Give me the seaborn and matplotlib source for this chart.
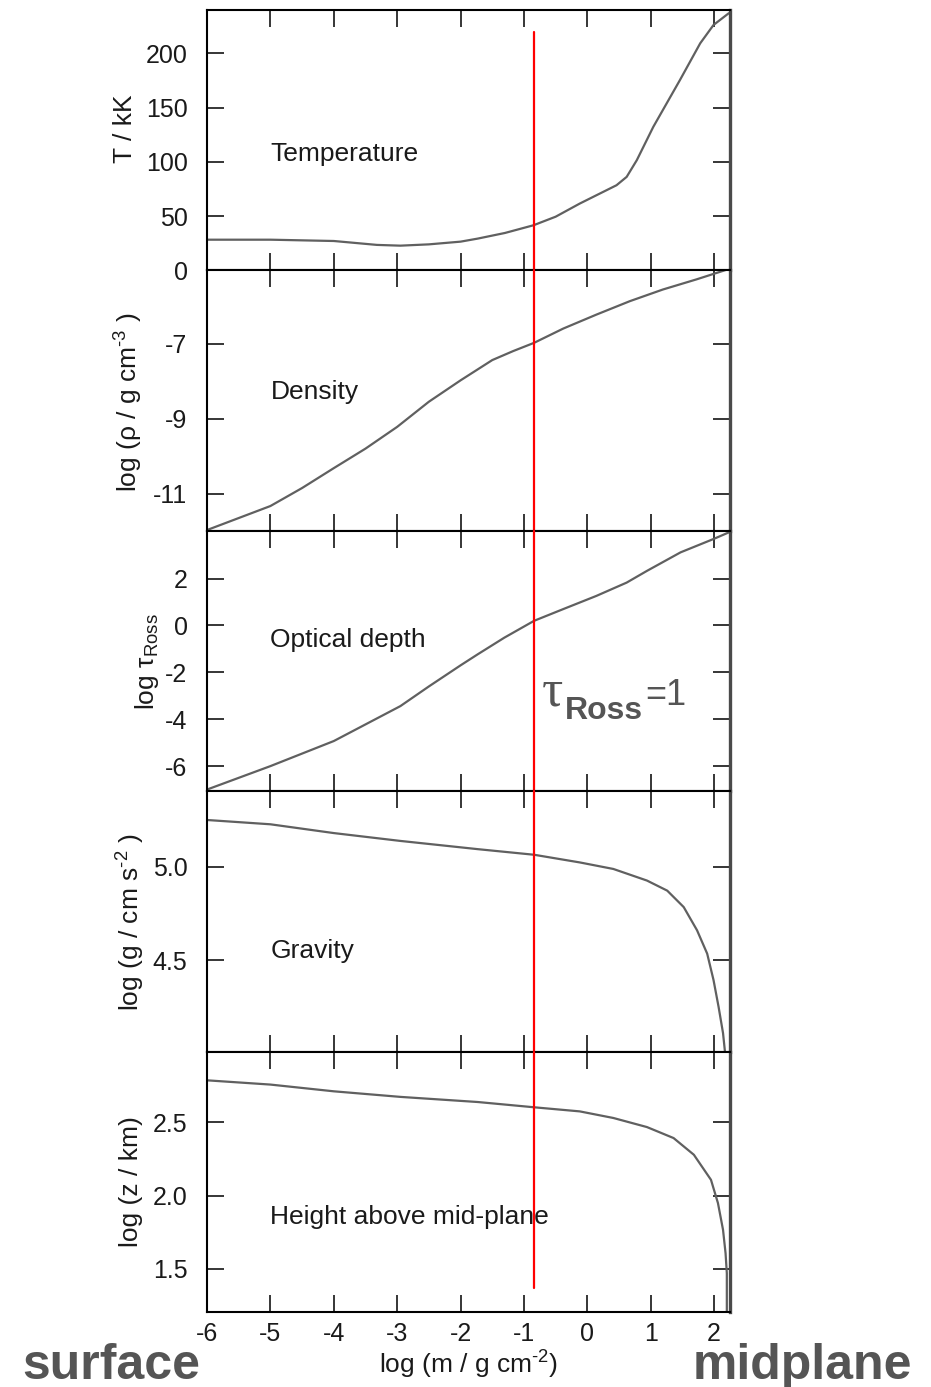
import numpy as np
import pandas as pd
import matplotlib
matplotlib.use("Agg")
import matplotlib.pyplot as plt
import seaborn as sns
from matplotlib.ticker import FormatStrFormatter

# ---------------- data ----------------
x_T = [-6, -5, -4, -3.32, -2.95, -2.5, -2, -1.73, -1.3, -0.85, -0.5, -0.12,
       0.46, 0.62, 0.78, 1.04, 1.46, 1.78, 1.99, 2.23]
T_kK = [28.3, 28.3, 27.1, 23.5, 22.8, 24.0, 26.5, 29.3, 34.5, 41.6, 49.5, 61.6,
        78.5, 86.2, 101.6, 132.3, 175.4, 209.3, 226.2, 237]

x_rho = [-6, -5, -4.5, -4, -3.5, -3, -2.5, -2, -1.5, -1.17, -0.84, -0.38,
         0.14, 0.67, 1.19, 1.72, 2.2]
log_rho = [-11.97, -11.33, -10.85, -10.32, -9.8, -9.22, -8.55, -7.98, -7.44,
           -7.2, -6.98, -6.6, -6.23, -5.87, -5.56, -5.29, -5.03]

x_tau = [-6, -5, -4, -2.95, -2.5, -2, -1.73, -1.31, -0.84, -0.38, 0.14, 0.62,
         0.94, 1.47, 1.99, 2.23]
log_tau = [-7.0, -6.0, -4.93, -3.44, -2.6, -1.7, -1.23, -0.52, 0.2, 0.7, 1.26,
           1.83, 2.33, 3.12, 3.69, 3.97]

x_g = [-6, -5, -4, -2.95, -1.73, -0.84, -0.12, 0.41, 0.94, 1.26, 1.52, 1.73,
       1.89, 1.99, 2.07, 2.14, 2.17]
log_g = [5.25, 5.227, 5.18, 5.138, 5.094, 5.064, 5.023, 4.988, 4.926, 4.872,
         4.784, 4.66, 4.535, 4.394, 4.25, 4.11, 4.012]

x_z = [-6, -5, -4, -2.95, -1.73, -0.84, -0.12, 0.41, 0.94, 1.36, 1.68, 1.95,
       2.06, 2.14, 2.18, 2.2, 2.2]
log_z = [2.787, 2.758, 2.712, 2.674, 2.639, 2.603, 2.575, 2.53, 2.468, 2.393,
         2.279, 2.108, 1.949, 1.767, 1.607, 1.47, 1.206]

tau_ross_one = -0.84

panel_titles = ["Temperature", "Density", "Optical depth", "Gravity",
                "Height above mid-plane"]
y_labels = ["T / kK",
            r"log (ρ / g cm$^{\text{-3}}$ )",
            r"log τ$_{\mathregular{Ross}}$",
            r"log (g / cm s$^{\text{-2}}$ )",
            "log (z / km)"]
y_ticks = [[0, 50, 100, 150, 200],
           [-7, -9, -11],
           [2, 0, -2, -4, -6],
           [5.0, 4.5],
           [2.5, 2.0, 1.5]]
x_ticks = [-6, -5, -4, -3, -2, -1, 0, 1, 2]

# ---------------- style ----------------
sns.set_theme(style="ticks")
plt.rcParams.update({
    "font.family": ["Liberation Sans", "DejaVu Sans"],
    "axes.unicode_minus": False,
    "mathtext.fontset": "custom",
    "mathtext.rm": "Liberation Sans",
    "mathtext.it": "Liberation Sans:italic",
    "mathtext.bf": "Liberation Sans:bold",
})

W, H = 931, 1387
fig, axes = plt.subplots(5, 1, figsize=(W / 100, H / 100), dpi=100, sharex=True)
fig.subplots_adjust(left=207 / W, right=730 / W, top=1 - 10 / H,
                    bottom=1 - 1312 / H, hspace=0)

series = [(x_T, T_kK), (x_rho, log_rho), (x_tau, log_tau), (x_g, log_g), (x_z, log_z)]
ylims = [(0, 240), (-11.99, -5.05), (-7.07, 4.04), (4.011, 5.404), (1.206, 2.983)]
title_pos = [107, -8.28, -0.62, 4.548, 1.855]
ylabel_pos = [(125, 129), (129, 402), (147, 662), (131, 922), (131, 1182)]
fmts = ["%d", "%d", "%d", "%.1f", "%.1f"]
red_span = [(32, 270), None, None, None, (1052, 1288)]

line_col = "#606060"
for i, ax in enumerate(axes):
    xs, ys = series[i]
    df = pd.DataFrame({"x": xs, "y": ys})
    sns.lineplot(data=df, x="x", y="y", ax=ax, color=line_col, lw=1.6,
                 sort=False, estimator=None)
    ax.set_xlim(-6, 2.25)
    ax.set_ylim(*ylims[i])
    ax.set_yticks(y_ticks[i])
    ax.yaxis.set_major_formatter(FormatStrFormatter(fmts[i]))
    ax.set_xticks(x_ticks)
    ax.set_ylabel("")
    ax.set_xlabel("")
    for s in ["left", "top", "bottom"]:
        ax.spines[s].set_linewidth(1.5)
        ax.spines[s].set_color("black")
    ax.spines["right"].set_linewidth(2.4)
    ax.spines["right"].set_color("#4a4a4a")
    ax.tick_params(axis="both", which="major", direction="in", length=12,
                   width=1.1, color="black", top=True, right=True,
                   labelsize=18, labelcolor="#1a1a1a")
    ax.tick_params(axis="y", pad=14)
    ax.tick_params(axis="x", pad=7)
    ax.text(-5, title_pos[i], panel_titles[i], ha="left", va="center",
            fontsize=19, color="#1a1a1a", zorder=3)
    # red tau_Ross = 1 line
    top_ax = 10 + 260.4 * i
    if red_span[i] is None:
        ymin, ymax = 0, 1
    else:
        y0, y1 = red_span[i]
        ymin = 1 - (y1 - top_ax) / 260.4
        ymax = 1 - (y0 - top_ax) / 260.4
    ax.axvline(tau_ross_one, ymin=max(ymin, 0), ymax=min(ymax, 1),
               color="#ff0000", lw=1.6, zorder=5, clip_on=False)
    lx, ly = ylabel_pos[i]
    fig.text(lx / W, 1 - ly / H, y_labels[i], rotation=90, ha="center",
             va="center", fontsize=19, color="#1a1a1a")

axes[-1].set_xlabel(r"log (m / g cm$^{\text{-2}}$)", fontsize=19,
                    color="#1a1a1a", labelpad=2)


def ftxt(xp, yp, s, **kw):
    fig.text(xp / W, 1 - yp / H, s, **kw)


grey = "#555555"
ftxt(22, 1379, "surface", ha="left", va="baseline", fontsize=36,
     fontweight="bold", color=grey)
ftxt(912, 1379, "midplane", ha="right", va="baseline", fontsize=36,
     fontweight="bold", color=grey)

ftxt(542, 706, "τ", ha="left", va="baseline", fontsize=38,
     family=["Liberation Serif", "DejaVu Serif"], color=grey)
ftxt(565, 719, "Ross", ha="left", va="baseline", fontsize=23,
     fontweight="bold", color=grey)
ftxt(645, 705, "=1", ha="left", va="baseline", fontsize=26, color=grey)

fig.savefig("out.png", dpi=100)
